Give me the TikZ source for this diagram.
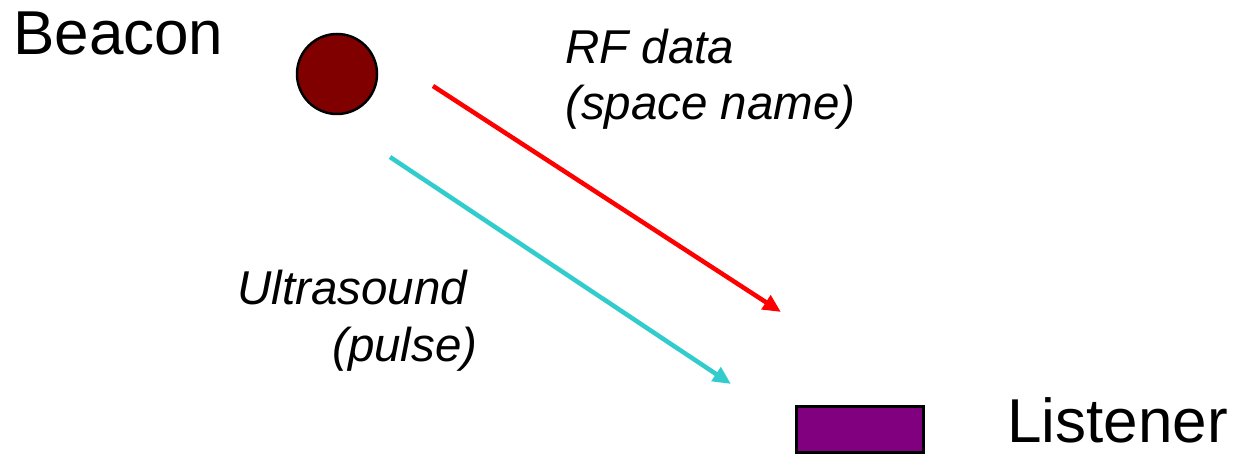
\documentclass[tikz,border=0pt]{standalone}
\usepackage{fontspec}
\setmainfont{Liberation Sans}
\usetikzlibrary{arrows.meta}
\definecolor{beaconred}{HTML}{800000}
\definecolor{listpurple}{HTML}{800080}
\definecolor{ultracyan}{HTML}{33CCCC}
\begin{document}
\begin{tikzpicture}[x=1pt,y=-1pt,
  bigtxt/.style={anchor=base west,inner sep=0pt,font=\fontsize{62}{72}\selectfont},
  smalltxt/.style={anchor=base west,inner sep=0pt,font=\fontsize{47.5}{56}\selectfont\itshape},
  sig/.style={line width=4.5pt,-{Triangle[length=18pt,width=16pt]}}]
\useasboundingbox (0,0) rectangle (1237,454);
\node[circle,draw=black,line width=2.5pt,fill=beaconred,minimum size=80pt,inner sep=0pt] (beacon) at (337,74) {};
\node[rectangle,draw=black,line width=3pt,fill=listpurple,minimum width=127pt,minimum height=46pt,inner sep=0pt] (listener) at (859.5,429.5) {};
\node[bigtxt] (tbeacon) at (13,55) {Beacon};
\node[bigtxt] (tlistener) at (1007,442) {Listener};
\node[smalltxt] (trf1) at (565,64) {RF data};
\node[smalltxt] (trf2) at (565,120) {(space name)};
\node[smalltxt] (tus1) at (237,305) {Ultrasound};
\node[smalltxt] (tus2) at (332,361) {(pulse)};
\coordinate (rfs) at (433,86);
\coordinate (rfe) at (781,312);
\coordinate (uss) at (390,157);
\coordinate (use) at (731,384);
\draw[sig,red] (rfs) -- (rfe);
\draw[sig,ultracyan] (uss) -- (use);
\end{tikzpicture}
\end{document}
